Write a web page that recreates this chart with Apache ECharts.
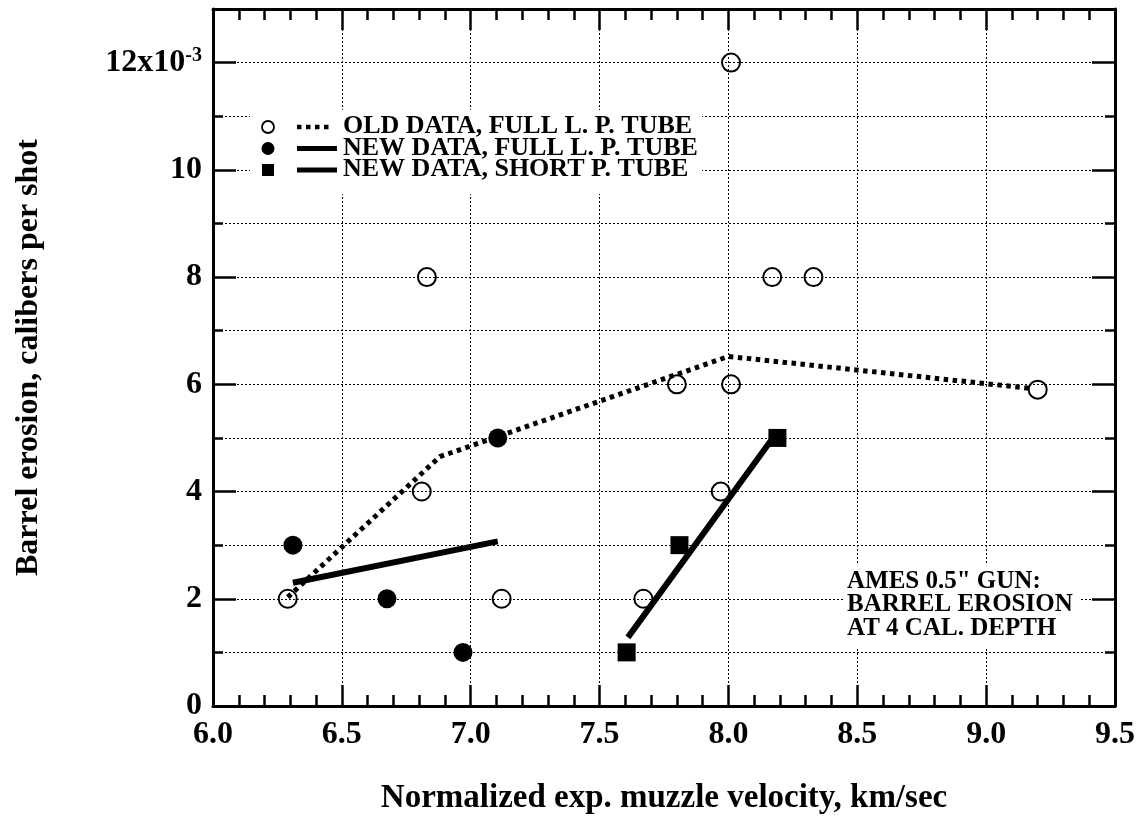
<!DOCTYPE html>
<html>
<head>
<meta charset="utf-8">
<script src="https://cdn.jsdelivr.net/npm/echarts@6/dist/echarts.min.js"></script>
<style>html,body{margin:0;padding:0;background:#fff}#c{width:1139px;height:822px}</style>
</head>
<body>
<div id="c"></div>
<script>
// ---- data ----
var oldData = [[6.29,2],[6.83,8],[6.81,4],[7.12,2],[7.67,2],[7.80,6],[7.97,4],[8.01,12],[8.01,6],[8.17,8],[8.33,8],[9.20,5.9]];
var oldFit = [[6.29,2.03],[6.88,4.65],[8.00,6.52],[9.18,5.92]];
var newFullData = [[6.31,3],[6.675,2],[6.97,1],[7.105,5]];
var newFullFit = [[6.31,2.3],[7.105,3.07]];
var shortData = [[7.605,1],[7.81,3],[8.19,5]];
var shortFit = [[7.61,1.28],[8.18,5.05]];
var legendLabels = ['OLD DATA, FULL L. P. TUBE','NEW DATA, FULL L. P. TUBE','NEW DATA, SHORT P. TUBE'];
var noteLines = ['AMES 0.5" GUN:','BARREL EROSION','AT 4 CAL. DEPTH'];
var xTitle = 'Normalized exp. muzzle velocity, km/sec';
var yTitle = 'Barrel erosion, calibers per shot';

var FONT = '"Liberation Serif","DejaVu Serif",serif';
var chart = echarts.init(document.getElementById('c'));
var lblStyle = {fontFamily: FONT, fontWeight: 'bold', fontSize: 32, color: '#000'};
function baseX(pos, withLabels){
  return {
    type:'value', position:pos, min:6, max:9.5, interval:0.5,
    axisLine:{show:true, onZero:false, lineStyle:{color:'#000', width:3}},
    axisTick:{show:true, inside:true, length:21, lineStyle:{color:'#000', width:2.5}},
    minorTick:{show:true, splitNumber:5, length:11, lineStyle:{color:'#000', width:2.5}},
    axisLabel: withLabels ? Object.assign({show:true, margin:13, formatter:function(v){return v.toFixed(1);}}, lblStyle) : {show:false},
    splitLine: withLabels ? {show:true, lineStyle:{color:'#000', width:1, type:[2,2]}} : {show:false},
    minorSplitLine:{show:false}
  };
}
function yMinor(pos, withLabels){
  return {
    type:'value', position:pos, min:0, max:13, interval:1,
    axisLine:{show:true, onZero:false, lineStyle:{color:'#000', width:3}},
    axisTick:{show:true, inside:true, length:10, lineStyle:{color:'#000', width:2.5}},
    axisLabel: withLabels ? Object.assign({show:true, margin:11, showMaxLabel:false,
      formatter:function(v){ if (v===12) return '{b|12x10}{s|-3}'; return (v%2===0 && v<12) ? String(v) : ''; },
      rich:{b:{fontFamily:FONT, fontWeight:'bold', fontSize:32, color:'#000'},
            s:{fontFamily:FONT, fontWeight:'bold', fontSize:20, color:'#000', verticalAlign:'top', padding:[0,0,14,0]}}
    }, lblStyle) : {show:false},
    splitLine: withLabels ? {show:true, lineStyle:{color:'#000', width:1, type:[2,2]}} : {show:false}
  };
}
function yMajor(pos){
  return {
    type:'value', position:pos, min:0, max:13, interval:2,
    axisLine:{show:false},
    axisTick:{show:true, inside:true, length:23, lineStyle:{color:'#000', width:2.5}},
    axisLabel:{show:false}, splitLine:{show:false}
  };
}
var xAxes = [baseX('bottom', true), baseX('top', false)];
xAxes[0].name = xTitle; xAxes[0].nameLocation = 'middle'; xAxes[0].nameGap = 76;
xAxes[0].nameTextStyle = {fontFamily:FONT, fontWeight:'bold', fontSize:33, color:'#000'};
var yAxes = [yMinor('left', true), yMajor('left'), yMinor('right', false), yMajor('right')];
yAxes[0].name = yTitle; yAxes[0].nameLocation = 'middle'; yAxes[0].nameGap = 168; yAxes[0].nameRotate = 90;
yAxes[0].nameTextStyle = {fontFamily:FONT, fontWeight:'bold', fontSize:32, color:'#000'};

// legend + note graphics
var g = [];
g.push({type:'rect', left:250, top:110, shape:{width:452, height:84}, style:{fill:'#fff'}, z:1});
var rowsY = [127, 148.5, 170];
g.push({type:'circle', shape:{cx:268, cy:rowsY[0], r:6}, style:{fill:'#fff', stroke:'#000', lineWidth:1.8}, z:5});
g.push({type:'circle', shape:{cx:268, cy:rowsY[1], r:6.5}, style:{fill:'#000'}, z:5});
g.push({type:'rect', shape:{x:262, y:rowsY[2]-6, width:12, height:12}, style:{fill:'#000'}, z:5});
g.push({type:'line', shape:{x1:297, y1:rowsY[0], x2:333, y2:rowsY[0]}, style:{stroke:'#000', lineWidth:4.5, lineDash:[4.5,4.5]}, z:5});
g.push({type:'line', shape:{x1:297, y1:rowsY[1], x2:337, y2:rowsY[1]}, style:{stroke:'#000', lineWidth:5}, z:5});
g.push({type:'line', shape:{x1:297, y1:rowsY[2], x2:337, y2:rowsY[2]}, style:{stroke:'#000', lineWidth:5}, z:5});
for (var i=0;i<3;i++){
  g.push({type:'text', left:343, top:rowsY[i]-13.5, style:{text:legendLabels[i], font:'bold 26px '+FONT, fill:'#000'}, z:5});
}
g.push({type:'rect', left:845, top:563, shape:{width:236, height:85}, style:{fill:'#fff'}, z:1});
for (var j=0;j<3;j++){
  g.push({type:'text', left:847, top:569+j*23.5, style:{text:noteLines[j], font:'bold 25px '+FONT, fill:'#000'}, z:5});
}

chart.setOption({
  animation:false,
  backgroundColor:'#fff',
  grid:{left:213, right:24, top:9, bottom:116, containLabel:false},
  xAxis: xAxes,
  yAxis: yAxes,
  graphic: g,
  series:[
    {type:'line', data:oldFit, symbol:'none', z:3, lineStyle:{color:'#000', width:5, type:[4.5,4.5], cap:'butt'}},
    {type:'line', data:newFullFit, symbol:'none', z:3, lineStyle:{color:'#000', width:6}},
    {type:'line', data:shortFit, symbol:'none', z:3, lineStyle:{color:'#000', width:6}},
    {type:'scatter', data:oldData, symbol:'circle', symbolSize:18, z:4, itemStyle:{opacity:1, color:'rgba(0,0,0,0)', borderColor:'#000', borderWidth:2}},
    {type:'scatter', data:newFullData, symbol:'circle', symbolSize:19, z:4, itemStyle:{opacity:1, color:'#000'}},
    {type:'scatter', data:shortData, symbol:'rect', symbolSize:18, z:4, itemStyle:{opacity:1, color:'#000'}}
  ]
});
</script>
</body>
</html>
